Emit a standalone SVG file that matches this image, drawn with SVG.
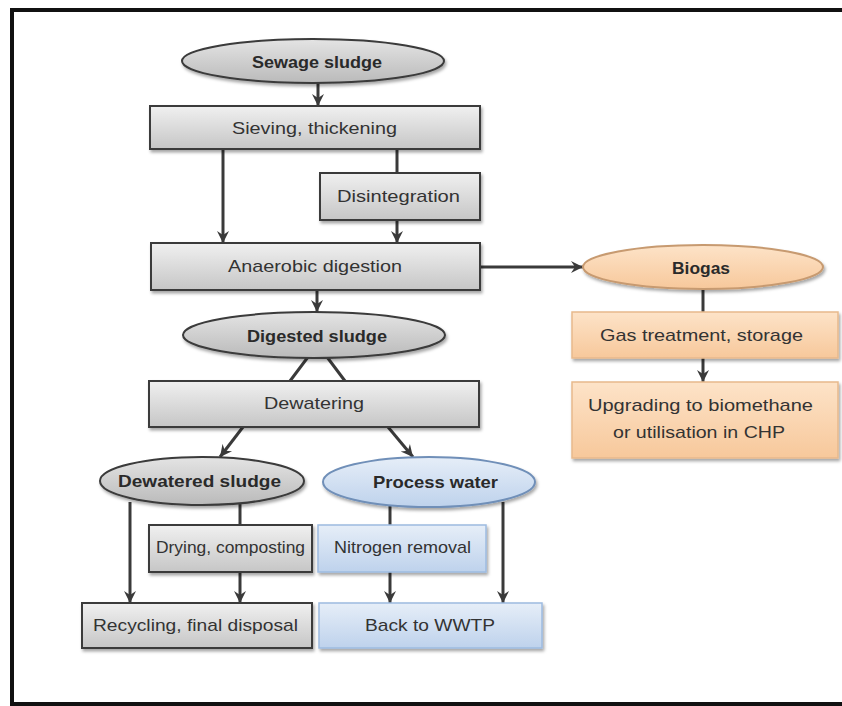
<svg xmlns="http://www.w3.org/2000/svg" width="842" height="706" viewBox="0 0 842 706">
<defs>
<linearGradient id="gGrey" x1="0" y1="0" x2="0" y2="1">
<stop offset="0" stop-color="#f0f0f0"/>
<stop offset="1" stop-color="#c6c6c6"/>
</linearGradient>
<linearGradient id="gEll" x1="0" y1="0" x2="0" y2="1">
<stop offset="0" stop-color="#e4e4e4"/>
<stop offset="1" stop-color="#bababa"/>
</linearGradient>
<linearGradient id="gOrange" x1="0" y1="0" x2="0" y2="1">
<stop offset="0" stop-color="#fde3c8"/>
<stop offset="1" stop-color="#f7c89b"/>
</linearGradient>
<linearGradient id="gBlue" x1="0" y1="0" x2="0" y2="1">
<stop offset="0" stop-color="#e6eef8"/>
<stop offset="1" stop-color="#bed2ec"/>
</linearGradient>
<filter id="sh" x="-10%" y="-20%" width="120%" height="150%">
<feDropShadow dx="1.5" dy="2.5" stdDeviation="1.5" flood-color="#000" flood-opacity="0.35"/>
</filter>
<marker id="arr" markerUnits="userSpaceOnUse" markerWidth="14" markerHeight="14" refX="12" refY="7" orient="auto">
<path d="M0,1 L12,7 L0,13 L4,7 Z" fill="#3a3a3a"/>
</marker>
</defs>
<style>
.bx{fill:url(#gGrey);stroke:#3a3a3a;stroke-width:2;filter:url(#sh)}
.el{fill:url(#gEll);stroke:#3a3a3a;stroke-width:2;filter:url(#sh)}
.ob{fill:url(#gOrange);stroke:#e7b98c;stroke-width:1.5;filter:url(#sh)}
.oe{fill:url(#gOrange);stroke:#c79a70;stroke-width:2;filter:url(#sh)}
.bb{fill:url(#gBlue);stroke:#9dbbe0;stroke-width:1.5;filter:url(#sh)}
.be{fill:url(#gBlue);stroke:#6f8fb8;stroke-width:2;filter:url(#sh)}
.t{font-family:"Liberation Sans","Open Sans",sans-serif;font-size:17px;fill:#333;text-anchor:middle}
.b{font-weight:bold;fill:#2a2a2a}
.c{stroke:#3a3a3a;stroke-width:3;fill:none}
.a{marker-end:url(#arr)}
</style>
<rect x="0" y="0" width="842" height="706" fill="#ffffff"/>
<path d="M842,10 L12,10 L12,704 L842,704" fill="none" stroke="#111" stroke-width="4"/>

<g id="connectors">
<line class="c a" x1="318" y1="83" x2="318" y2="106"/>
<line class="c a" x1="223" y1="149" x2="223" y2="243"/>
<line class="c" x1="397" y1="149" x2="397" y2="173"/>
<line class="c a" x1="397" y1="220" x2="397" y2="243"/>
<line class="c a" x1="317" y1="290" x2="317" y2="312"/>
<line class="c a" x1="480" y1="267" x2="583" y2="267"/>
<line class="c" x1="703" y1="289" x2="703" y2="312"/>
<line class="c a" x1="703" y1="358" x2="703" y2="382"/>
<line class="c" x1="308" y1="357" x2="290" y2="381"/>
<line class="c" x1="327" y1="357" x2="345" y2="381"/>
<line class="c a" x1="243" y1="427" x2="220" y2="457"/>
<line class="c a" x1="388" y1="427" x2="413" y2="457"/>
<line class="c a" x1="130" y1="502" x2="130" y2="603"/>
<line class="c" x1="240" y1="504" x2="240" y2="525"/>
<line class="c a" x1="240" y1="572" x2="240" y2="603"/>
<line class="c" x1="390" y1="506" x2="390" y2="525"/>
<line class="c a" x1="390" y1="572" x2="390" y2="603"/>
<line class="c a" x1="503" y1="502" x2="503" y2="603"/>
</g>

<g id="sewage-sludge">
<ellipse class="el" cx="313" cy="61" rx="131" ry="22"/>
<text class="t b" x="317" y="68" textLength="130" lengthAdjust="spacingAndGlyphs">Sewage sludge</text>
</g>
<g id="sieving">
<rect class="bx" x="150" y="106" width="330" height="43"/>
<text class="t" x="314.5" y="134" textLength="165" lengthAdjust="spacingAndGlyphs">Sieving, thickening</text>
</g>
<g id="disintegration">
<rect class="bx" x="320" y="173" width="160" height="47"/>
<text class="t" x="398.5" y="202" textLength="123" lengthAdjust="spacingAndGlyphs">Disintegration</text>
</g>
<g id="anaerobic">
<rect class="bx" x="151" y="243" width="329" height="47"/>
<text class="t" x="315" y="272" textLength="174" lengthAdjust="spacingAndGlyphs">Anaerobic digestion</text>
</g>
<g id="digested-sludge">
<ellipse class="el" cx="314" cy="335" rx="131" ry="23"/>
<text class="t b" x="317" y="342" textLength="140" lengthAdjust="spacingAndGlyphs">Digested sludge</text>
</g>
<g id="dewatering">
<rect class="bx" x="149" y="381" width="330" height="46"/>
<text class="t" x="314" y="409" textLength="100" lengthAdjust="spacingAndGlyphs">Dewatering</text>
</g>
<g id="dewatered-sludge">
<ellipse class="el" cx="202" cy="481" rx="102" ry="24"/>
<text class="t b" x="199.5" y="487" textLength="163" lengthAdjust="spacingAndGlyphs">Dewatered sludge</text>
</g>
<g id="process-water">
<ellipse class="be" cx="429" cy="482" rx="106" ry="25"/>
<text class="t b" x="435.5" y="488" textLength="125" lengthAdjust="spacingAndGlyphs">Process water</text>
</g>
<g id="drying">
<rect class="bx" x="149" y="525" width="163" height="47"/>
<text class="t" x="230.5" y="553" textLength="149" lengthAdjust="spacingAndGlyphs">Drying, composting</text>
</g>
<g id="nitrogen">
<rect class="bb" x="318" y="525" width="168" height="47"/>
<text class="t" x="402.5" y="553" textLength="137" lengthAdjust="spacingAndGlyphs">Nitrogen removal</text>
</g>
<g id="recycling">
<rect class="bx" x="82" y="603" width="230" height="45"/>
<text class="t" x="195.5" y="631" textLength="205" lengthAdjust="spacingAndGlyphs">Recycling, final disposal</text>
</g>
<g id="back-wwtp">
<rect class="bb" x="319" y="603" width="223" height="45"/>
<text class="t" x="430" y="631" textLength="130" lengthAdjust="spacingAndGlyphs">Back to WWTP</text>
</g>
<g id="biogas">
<ellipse class="oe" cx="703" cy="267" rx="120" ry="22"/>
<text class="t b" x="701" y="274" textLength="58" lengthAdjust="spacingAndGlyphs">Biogas</text>
</g>
<g id="gas-treatment">
<rect class="ob" x="572" y="312" width="266" height="46"/>
<text class="t" x="701.5" y="341" textLength="203" lengthAdjust="spacingAndGlyphs">Gas treatment, storage</text>
</g>
<g id="upgrading">
<rect class="ob" x="572" y="382" width="266" height="76"/>
<text class="t" x="700.5" y="411" textLength="225" lengthAdjust="spacingAndGlyphs">Upgrading to biomethane</text>
<text class="t" x="699" y="438" textLength="172" lengthAdjust="spacingAndGlyphs">or utilisation in CHP</text>
</g>
</svg>
